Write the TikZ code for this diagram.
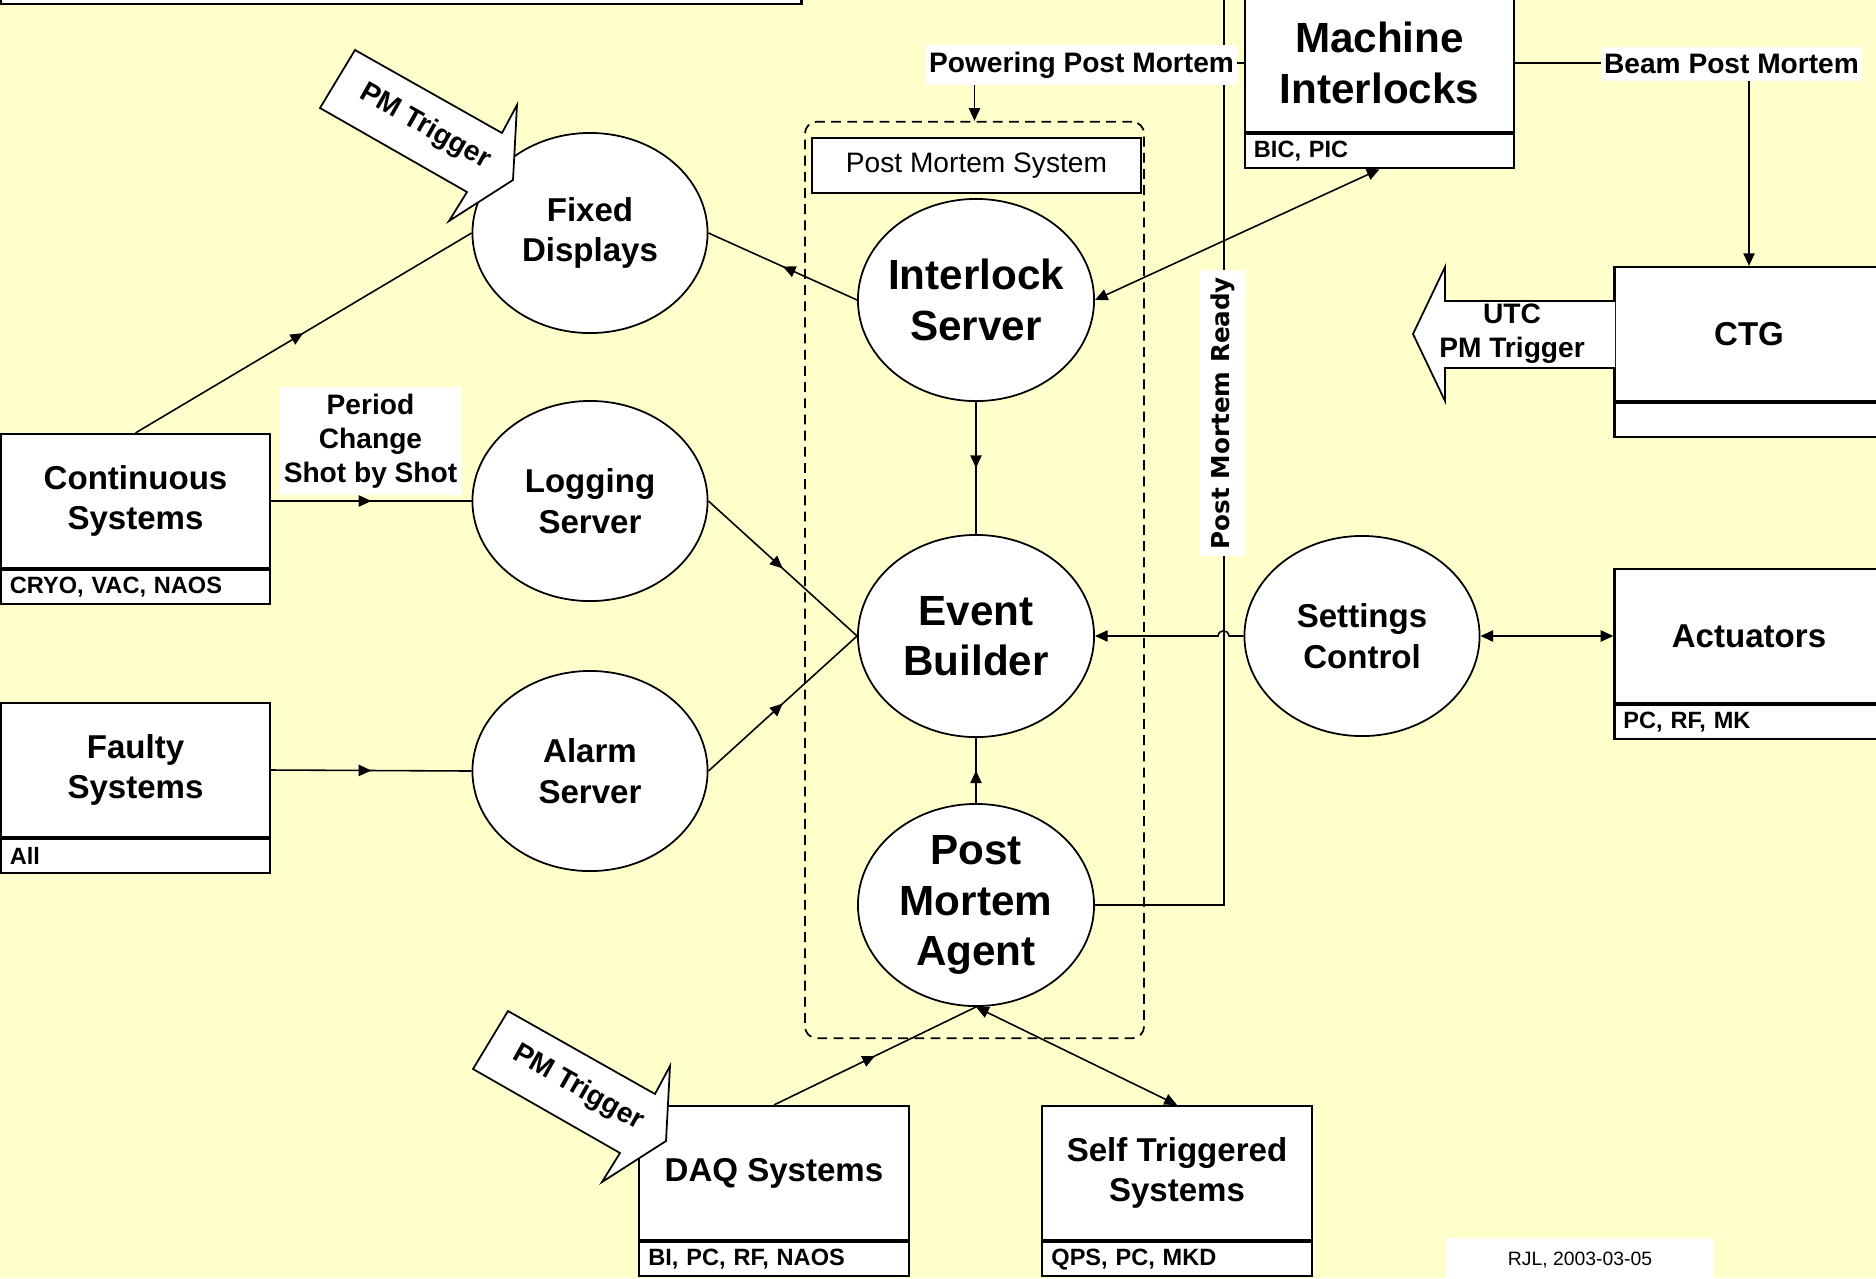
\documentclass[tikz,border=0pt]{standalone}
\usepackage{fontspec}
\setmainfont{Liberation Sans}
\newfontfamily\readyfont{DejaVu Sans}
\usepackage{xcolor}
\definecolor{pmbg}{HTML}{FFFFCC}
\usepackage{tikz}
\usetikzlibrary{arrows.meta,positioning,shapes.geometric,decorations.markings}
\tikzset{
  pmbox/.style={draw,line width=0.6pt,fill=white,align=center,inner sep=0pt,minimum width=2.69cm,minimum height=1.34cm,font=\bfseries\fontsize{9.4}{11.6}\selectfont},
  pmtag/.style={draw,line width=0.6pt,fill=white,align=left,inner xsep=0.09cm,inner ysep=0pt,text width=2.51cm,minimum height=0.34cm,font=\bfseries\fontsize{6.7}{8}\selectfont},
  pmproc/.style={ellipse,draw,line width=0.5pt,fill=white,align=center,inner sep=-2pt,minimum width=2.35cm,minimum height=2.0cm,font=\bfseries\fontsize{9.4}{11.6}\selectfont},
  pmcore/.style={pmproc,minimum width=2.36cm,minimum height=2.02cm,font=\bfseries\fontsize{12}{14.3}\selectfont},
  pmlabel/.style={fill=white,align=center,inner xsep=1pt,inner ysep=2pt,font=\bfseries\fontsize{8}{9.7}\selectfont},
  pmflow/.style={line width=0.45pt,-{Triangle[length=3.6pt,width=3.2pt]}},
  pmboth/.style={line width=0.45pt,{Triangle[length=3.6pt,width=3.2pt]}-{Triangle[length=3.6pt,width=3.2pt]}},
  pmmid/.style={line width=0.45pt,postaction={decorate},decoration={markings,mark=at position 0.5 with {\arrow{Triangle[length=3.6pt,width=3.2pt]}}}},
  pmblock/.style={draw,line width=0.5pt,fill=white},
  pmtrig/.pic={
    \draw[pmblock] (0,0) -- (-35,58) -- (112,142) -- (94,171) -- (158,130) -- (162,55) -- (147,83) -- cycle;
    \node[rotate=-29.5,font=\bfseries\fontsize{8}{9.7}\selectfont] at (70,77) {PM Trigger};
  },
}

\begin{document}
\begin{tikzpicture}[x=0.01cm,y=-0.01cm]
\useasboundingbox (0,0) rectangle (1876,1278);
\clip (0,0) rectangle (1876,1278);
\fill[pmbg] (0,0) rectangle (1876,1278);

% post mortem system frame
\node[draw,dashed,dash pattern=on 2.8pt off 1.8pt,line width=0.5pt,rounded corners=0.12cm,minimum width=3.39cm,minimum height=9.16cm] (pms) at (974.5,580) {};
\node[draw,fill=white,line width=0.5pt,minimum width=3.29cm,minimum height=0.55cm,inner sep=0pt,font=\fontsize{8}{9.7}\selectfont] (pmshead) at (976.5,165.5) {Post Mortem System};

\node[draw,line width=0.6pt,fill=white,minimum width=8cm,minimum height=1cm,inner sep=0pt,anchor=south west] (topbox) at (0,5) {};

% systems
\node[pmbox] (cont) at (135.5,501) {Continuous\\Systems};
\node[pmtag, below=0pt of cont] (conttag) {CRYO, VAC, NAOS};
\node[pmbox] (faulty) at (135.5,770) {Faulty\\Systems};
\node[pmtag, below=0pt of faulty] (faultytag) {All};
\node[pmbox, minimum height=1.38cm, font=\bfseries\fontsize{12}{14.3}\selectfont] (mi) at (1379.5,63) {Machine\\Interlocks};
\node[pmtag, below=0pt of mi] (mitag) {BIC, PIC};
\node[pmbox] (ctg) at (1749,334) {CTG};
\node[pmtag, below=0pt of ctg] (ctgtag) {};
\node[pmbox] (act) at (1749,636) {Actuators};
\node[pmtag, below=0pt of act] (acttag) {PC, RF, MK};
\node[pmbox] (daq) at (774,1173) {DAQ Systems};
\node[pmtag, below=0pt of daq] (daqtag) {BI, PC, RF, NAOS};
\node[pmbox] (sts) at (1177,1173) {Self Triggered\\Systems};
\node[pmtag, below=0pt of sts] (ststag) {QPS, PC, MKD};

% servers
\node[pmproc] (fd) at (590,233) {Fixed\\Displays};
\node[pmproc] (lg) at (590,501) {Logging\\Server};
\node[pmproc] (al) at (590,771) {Alarm\\Server};
\node[pmcore] (is) at (976,300) {Interlock\\Server};
\node[pmcore] (eb) at (976,636) {Event\\Builder};
\node[pmcore] (pma) at (976,905) {Post\\Mortem\\Agent};
\node[pmproc] (sc) at (1362,636) {Settings\\Control};

% flows
\draw[pmmid] (cont.north) -- (fd.west);
\draw[pmmid] (cont.east) -- (lg.west);
\draw[pmmid] (faulty.east) -- (al.west);
\draw[pmmid] (is.west) -- (fd.east);
\draw[pmmid] (lg.east) -- (eb.west);
\draw[pmmid] (al.east) -- (eb.west);
\draw[pmmid] (is.south) -- (eb.north);
\draw[pmmid] (pma.north) -- (eb.south);
\draw[pmmid] (daq.north) -- (pma.south);
\draw[pmboth] (pma.south) -- (sts.north);
\draw[pmboth] (is.east) -- (mitag.south);
\draw[pmboth] (sc.east) -- (act.west);
\coordinate (rdytop) at (1224,-30);
\draw[line width=0.45pt] (pma.east) -| (rdytop);
\draw[pmflow] (sc.west) -- (1229,636) .. controls (1228,629) and (1219,629) .. (1218,636) -- (eb.east);
\draw[pmflow] (mi.west) -| (pms.north);
\draw[pmflow] (mi.east) -| (ctg.north);

% labels
\node[pmlabel] (powlbl) at (1081.5,65) {Powering Post Mortem};
\node[pmlabel] (beamlbl) at (1731.5,64) {Beam Post Mortem};
\node[pmlabel] (perlbl) at (370.5,441) {Period\\Change\\Shot by Shot};
\node[pmlabel, rotate=90, font=\readyfont\bfseries\fontsize{7}{8}\selectfont, inner xsep=2pt, inner ysep=3pt] (rdylbl) at (1223,413) {Post Mortem Ready};

% triggers
\draw[pmblock] (1615,301) -- (1445,301) -- (1445,267) -- (1413,334) -- (1445,401) -- (1445,368) -- (1615,368);
\node[font=\bfseries\fontsize{8}{9.7}\selectfont, align=center] (utclbl) at (1512,334) {UTC\\PM Trigger};
\pic at (355,50) {pmtrig};
\pic at (508,1011) {pmtrig};

\node[fill=white, minimum width=2.67cm, minimum height=0.45cm, inner sep=0pt, font=\fontsize{5.5}{6.6}\selectfont] (rjl) at (1580,1260) {RJL, 2003-03-05};
\end{tikzpicture}
\end{document}
